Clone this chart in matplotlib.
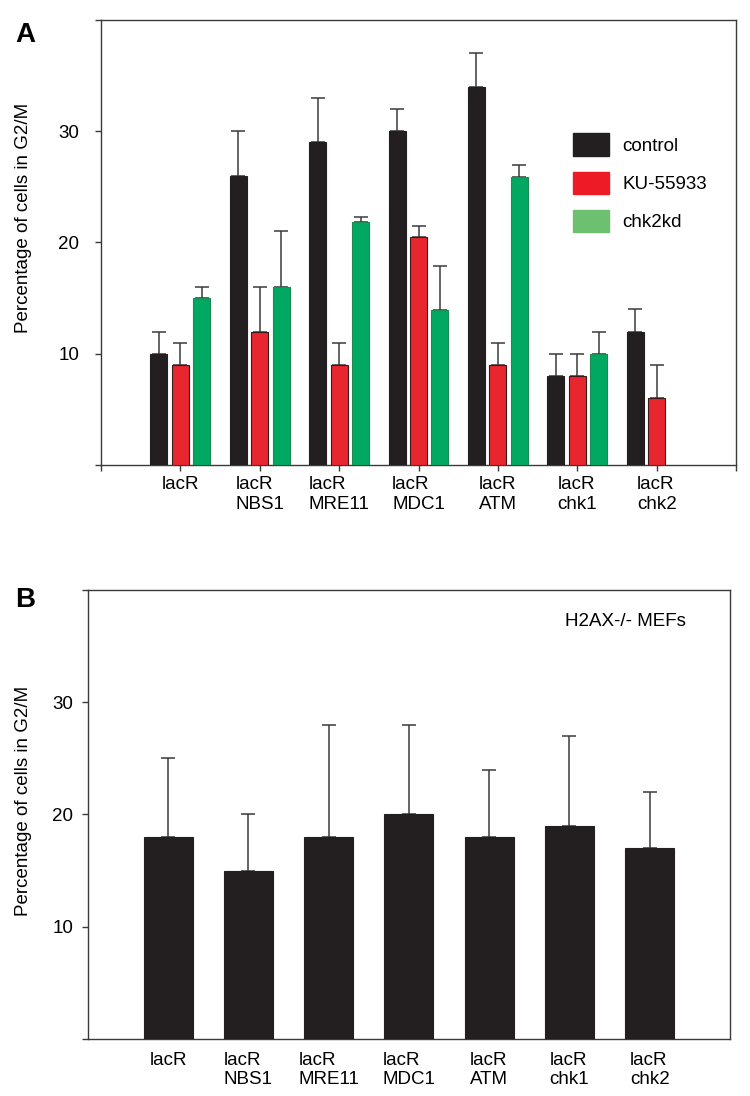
import numpy as np
import matplotlib.pyplot as plt
from matplotlib.patches import Patch

plt.rcParams['font.family'] = ['Liberation Sans', 'DejaVu Sans']

# panel A data
labels_a = ['lacR', 'lacR\nNBS1', 'lacR\nMRE11', 'lacR\nMDC1', 'lacR\nATM', 'lacR\nchk1', 'lacR\nchk2']
control = [10, 26, 29, 30, 34, 8, 12]
control_err = [2, 4, 4, 2, 3, 2, 2]
ku = [9, 12, 9, 20.5, 9, 8, 6]
ku_err = [2, 4, 2, 1, 2, 2, 3]
chk2kd = [15, 16, 21.8, 13.9, 25.9, 10]
chk2kd_err = [1, 5, 0.5, 4, 1.1, 2]

# panel B data
labels_b = labels_a
h2ax = [18, 15, 18, 20, 18, 19, 17]
h2ax_err = [7, 5, 10, 8, 6, 8, 5]

BLACK, RED, GREEN = '#231f20', '#e8262f', '#00a862'
LEG_GREEN, LEG_RED = '#6cc070', '#ed1c24'
SPINE = '#3a3a3a'
FS = 13.5

fig = plt.figure(figsize=(7.5, 10.96), dpi=100)
ax_a = fig.add_axes([0.1347, 0.5757, 0.8467, 0.4061])
ax_b = fig.add_axes([0.1173, 0.0520, 0.8560, 0.4097])

err_kw = dict(fmt='none', ecolor=SPINE, elinewidth=1.1, capsize=4.8,
              capthick=1.1, zorder=1)


def style(ax, ypad):
    ax.set_xlim(0, 8)
    ax.set_ylim(0, 40)
    ax.set_yticks([0, 10, 20, 30, 40])
    ax.set_yticklabels(['', '10', '20', '30', ''])
    for s in ax.spines.values():
        s.set_color(SPINE)
        s.set_linewidth(1.0)
    ax.tick_params(axis='both', direction='out', length=4.5, width=1.0,
                   color=SPINE, labelsize=FS)
    ax.tick_params(axis='y', pad=ypad)
    ax.set_ylabel('Percentage of cells in G2/M', fontsize=FS)


def bars(ax, x, vals, errs, width, color, edge):
    ax.bar(x, vals, width, color=color, edgecolor=edge, linewidth=0.8, zorder=3)
    ax.errorbar(x, vals, yerr=[np.zeros(len(vals)), errs], **err_kw)


# ---- panel A ----
pos = np.arange(1, 8)
w, off = 0.214, 0.27
bars(ax_a, pos - off, control, control_err, w, BLACK, BLACK)
bars(ax_a, pos, ku, ku_err, w, RED, '#3a1a1a')
bars(ax_a, pos[:6] + off, chk2kd, chk2kd_err, w, GREEN, '#1d8a52')
style(ax_a, 11)
ax_a.set_xticks(np.arange(0, 9))
ax_a.set_xticklabels([''] + labels_a + [''])
for lab in ax_a.get_xticklabels():
    lab.set_multialignment('left')
ax_a.yaxis.set_label_coords(-0.109, 0.555)

handles = [Patch(facecolor=BLACK, edgecolor=BLACK),
           Patch(facecolor=LEG_RED, edgecolor=LEG_RED),
           Patch(facecolor=LEG_GREEN, edgecolor=LEG_GREEN)]
ax_a.legend(handles, ['control', 'KU-55933', 'chk2kd'], loc='upper left',
            bbox_to_anchor=(0.743, 0.745), frameon=False, fontsize=FS,
            handlelength=1.95, handleheight=1.45, labelspacing=0.85,
            handletextpad=0.7, borderpad=0, borderaxespad=0)

# ---- panel B ----
bars(ax_b, pos, h2ax, h2ax_err, 0.61, BLACK, BLACK)
style(ax_b, 6)
ax_b.set_xticks(pos)
ax_b.set_xticklabels(labels_b)
ax_b.tick_params(axis='x', length=0, pad=9)
for lab in ax_b.get_xticklabels():
    lab.set_multialignment('left')
ax_b.yaxis.set_label_coords(-0.087, 0.53)
ax_b.text(0.743, 0.929, 'H2AX-/- MEFs', transform=ax_b.transAxes,
          fontsize=FS, ha='left', va='center')

fig.text(0.02, 0.968, 'A', fontsize=20, fontweight='bold', va='center')
fig.text(0.02, 0.453, 'B', fontsize=20, fontweight='bold', va='center')

plt.savefig('out.png', dpi=100, facecolor='white')
